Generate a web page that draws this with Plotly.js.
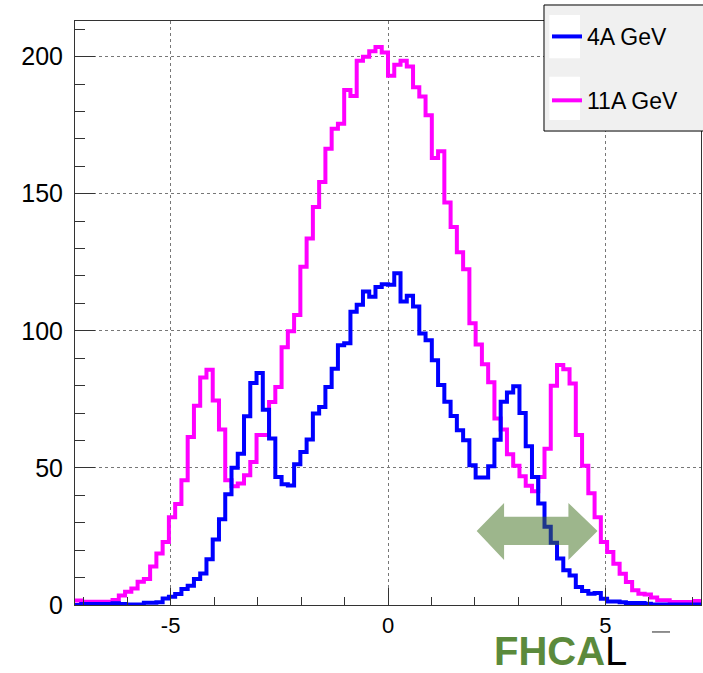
<!DOCTYPE html>
<html>
<head>
<meta charset="utf-8">
<script src="https://cdn.plot.ly/plotly-3.0.1.min.js"></script>
<style>html,body{margin:0;padding:0;background:#fff}</style>
</head>
<body>
<div id="chart" style="width:703px;height:673px"></div>
<script>
// Histogram definition: 100 bins of width 0.144 starting at -7.2
const binStart = -7.2;
const binWidth = 0.144;

// Bin contents, 4A GeV (blue)
const counts4A = [
  0, 0.4, 0.4, 0.4, 0.4, 0.4, 0.6, 0.4, 0.2, 0.2,
  0.2, 0.8, 0.8, 1.0, 2.4, 3, 4, 5.8, 7, 9.5,
  11.5, 16.7, 23.9, 31.3, 40.4, 50.1, 55.2, 68.8, 81, 84.6,
  71.2, 60.7, 46.7, 44, 43.6, 51.3, 55.8, 60.4, 69.8, 72.2,
  79.5, 86.2, 94.7, 95.5, 107, 109.5, 114.3, 112.4, 116, 117,
  116.8, 121, 110.7, 112.8, 108.9, 99, 96.6, 89.3, 80.2, 74.1,
  68.9, 63.7, 60.1, 51, 46.5, 46.5, 50.6, 60.3, 74.1, 77.5,
  79.8, 70, 57.9, 46.7, 37, 28.5, 22.7, 17, 12.7, 10.8,
  6.6, 5.1, 4.1, 4.4, 2.3, 1.3, 1.3, 1.0, 0.7, 0.7,
  0.7, 0.5, 0.2, 0.2, 0.2, 0.2, 0.2, 0.2, 0.2, 0.2
];

// Bin contents, 11A GeV (magenta)
const counts11A = [
  1.6, 1.2, 1.2, 1.2, 1.2, 1.2, 1.8, 3.5, 4.8, 6,
  8.5, 9.5, 14, 18.8, 23, 32, 36.8, 45.5, 61.3, 72.7,
  83, 85.8, 74.6, 64, 45.5, 43.3, 44.3, 47.3, 52.2, 62,
  62, 74, 79.5, 94, 99.8, 105.8, 123.4, 133.7, 145.2, 154.3,
  166.4, 173.7, 175.5, 187.8, 185.6, 198.5, 200, 202, 203.5, 201.5,
  193, 197, 198.5, 196.4, 188.8, 185.5, 178.6, 163, 165.5, 146.8,
  137.9, 128.7, 122.5, 102.8, 95, 87.8, 81.2, 68, 64, 55,
  50.8, 47, 43.5, 41.5, 46.7, 57, 80, 87.5, 86, 80.8,
  62, 50.8, 40.8, 32, 23, 19.3, 15, 11.4, 8.4, 5.4,
  4.1, 3.8, 2.7, 1.7, 1.7, 1.1, 1.1, 1.1, 1.1, 1.5
];

const seriesNames = ['4A GeV', '11A GeV'];
const xTickVals = [-5, 0, 5];
const xTickText = ['-5', '0', '5'];
const yTickVals = [0, 50, 100, 150, 200];
const yTickText = ['0', '50', '100', '150', '200'];

function stepXY(counts) {
  const x = [], y = [];
  for (let i = 0; i < counts.length; i++) {
    x.push(binStart + i * binWidth);
    y.push(counts[i]);
  }
  x.push(binStart + counts.length * binWidth);
  y.push(counts[counts.length - 1]);
  return {x, y};
}

const s4 = stepXY(counts4A);
const s11 = stepXY(counts11A);

const traces = [
  {type: 'scatter', mode: 'lines', name: seriesNames[1], x: s11.x, y: s11.y,
   line: {shape: 'hv', color: '#ff00ff', width: 4}, legendgroup: 'b', legendrank: 2},
  {type: 'scatter', mode: 'lines', name: seriesNames[0], x: s4.x, y: s4.y,
   line: {shape: 'hv', color: '#0000ff', width: 4}, legendgroup: 'a', legendrank: 1}
];

const axisCommon = {
  tickmode: 'array', ticks: 'inside', tickwidth: 1, tickcolor: '#333',
  showgrid: true, gridcolor: '#777', griddash: 'dot', gridwidth: 1,
  zeroline: false, showline: true, linecolor: '#333', linewidth: 1, mirror: true,
  fixedrange: true
};

const layout = {
  width: 703, height: 673,
  margin: {l: 75, r: 2, t: 21, b: 68},
  paper_bgcolor: '#fff', plot_bgcolor: '#fff',
  font: {family: 'Liberation Sans, Arial, sans-serif', color: '#000'},
  hovermode: false,
  xaxis: Object.assign({}, axisCommon, {
    range: [-7.2, 7.2], tickvals: xTickVals, ticktext: xTickText, ticklen: 17,
    minor: {ticks: 'inside', ticklen: 8, dtick: 1, tick0: 0, tickcolor: '#333', showgrid: false},
    tickfont: {size: 22, color: '#000'}, ticklabelstandoff: 1
  }),
  yaxis: Object.assign({}, axisCommon, {
    range: [0, 213], tickvals: yTickVals, ticktext: yTickText, ticklen: 20,
    minor: {ticks: 'inside', ticklen: 10, dtick: 10, tick0: 0, tickcolor: '#333', showgrid: false},
    tickfont: {size: 25, color: '#000'}, ticklabelstandoff: 6
  }),
  showlegend: true,
  legend: {
    x: 0.754, xanchor: 'left', y: 1.0103, yanchor: 'top',
    bgcolor: 'rgba(0,0,0,0)', borderwidth: 0,
    font: {size: 23, color: '#000'}, itemwidth: 30,
    traceorder: 'grouped', tracegroupgap: 31
  },
  shapes: [
    {type: 'rect', xref: 'paper', yref: 'paper', x0: 0.7492, x1: 1.01, y0: 0.8116, y1: 1.0274,
     fillcolor: '#f0f0f0', line: {color: '#000', width: 1}, layer: 'above'},
    {type: 'rect', xref: 'paper', yref: 'paper', x0: 0.7577, x1: 0.8067, y0: 0.9361, y1: 1.0103,
     fillcolor: '#ffffff', line: {width: 0}, layer: 'above'},
    {type: 'rect', xref: 'paper', yref: 'paper', x0: 0.7577, x1: 0.8067, y0: 0.8305, y1: 0.9046,
     fillcolor: '#ffffff', line: {width: 0}, layer: 'above'},
    {type: 'path', xref: 'x', yref: 'y', layer: 'above',
     path: 'M2.04,27 L2.67,37.2 L2.67,32.2 L4.15,32.2 L4.15,37.2 L4.82,27 L4.15,16.4 L4.15,21.9 L2.67,21.9 L2.67,16.4 Z',
     fillcolor: 'rgba(59,109,25,0.5)', line: {width: 0}},
    {type: 'line', xref: 'paper', yref: 'paper', x0: 0.9217, x1: 0.9505, y0: -0.0462, y1: -0.0462,
     line: {color: '#222', width: 1}}
  ],
  annotations: [
    {xref: 'paper', yref: 'paper', x: 0.6657, y: -0.0795, xanchor: 'left', yanchor: 'middle',
     showarrow: false,
     text: '<b><span style="color:#5b8a3c">FHCA</span></b><span style="color:#000">L</span>',
     font: {size: 40, family: 'Liberation Sans Narrow, Liberation Sans, Arial, sans-serif'}}
  ]
};

Plotly.newPlot('chart', traces, layout, {staticPlot: true, displayModeBar: false});
</script>
</body>
</html>
